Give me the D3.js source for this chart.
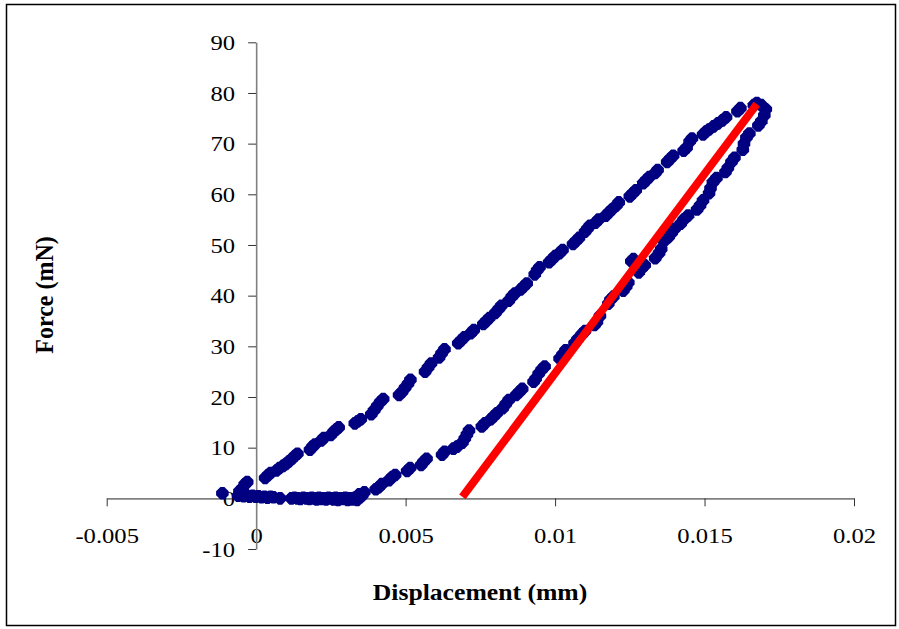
<!DOCTYPE html>
<html>
<head>
<meta charset="utf-8">
<script src="https://cdn.jsdelivr.net/npm/d3@7/dist/d3.min.js"></script>
<style>
  html, body { margin: 0; padding: 0; background: #fff; }
  svg { display: block; }
  text { font-family: "Liberation Serif", "Times New Roman", serif; fill: #000; }
</style>
</head>
<body>
<svg id="chart" width="899" height="629"></svg>
<script>
// Indentation test: loading branch (displacement in mm, force in mN)
const loadDisp = [
  0.00030, 0.00040, 0.00048,
  0.00068, 0.00078, 0.00090, 0.00100, 0.00110, 0.00120, 0.00130, 0.00138,
  0.00180, 0.00188, 0.00196, 0.00218, 0.00226,
  0.00250, 0.00260, 0.00268, 0.00276,
  0.00330, 0.00340, 0.00350,
  0.00385, 0.00395, 0.00405, 0.00415, 0.00425,
  0.00478, 0.00488, 0.00498, 0.00508, 0.00516,
  0.00565, 0.00575, 0.00585, 0.00612, 0.00620, 0.00630,
  0.00676, 0.00686, 0.00696, 0.00718, 0.00728,
  0.00760, 0.00770, 0.00780, 0.00800, 0.00812, 0.00820,
  0.00845, 0.00855, 0.00865, 0.00885, 0.00895, 0.00905,
  0.00932, 0.00940, 0.00948, 0.00980, 0.00990, 0.01000,
  0.01015, 0.01025, 0.01060, 0.01070, 0.01080,
  0.01100, 0.01108, 0.01116, 0.01135, 0.01145,
  0.01170, 0.01180, 0.01190, 0.01205, 0.01213,
  0.01250, 0.01260, 0.01270, 0.01295, 0.01305, 0.01315,
  0.01335, 0.01343, 0.01375, 0.01385, 0.01395,
  0.01430, 0.01440, 0.01450, 0.01458,
  0.01495, 0.01505, 0.01515, 0.01530, 0.01545, 0.01560, 0.01572,
  0.01610, 0.01620, 0.01665, 0.01675, 0.01690, 0.01705
];
const loadForce = [
  4.0, 4.6, 5.0,
  5.5, 6.0, 6.4, 6.8, 7.3, 7.8, 8.4, 8.8,
  9.6, 10.2, 10.6, 11.4, 11.9,
  12.5, 13.2, 13.6, 14.0,
  14.8, 15.2, 15.6,
  16.6, 17.4, 18.2, 19.0, 19.6,
  20.4, 21.0, 21.8, 22.6, 23.4,
  25.0, 25.8, 26.6, 27.8, 28.6, 29.4,
  30.6, 31.2, 31.8, 32.6, 33.2,
  34.4, 35.0, 35.6, 36.6, 37.4, 38.0,
  39.0, 39.8, 40.4, 41.2, 41.8, 42.4,
  44.2, 45.0, 45.6, 46.6, 47.2, 47.8,
  48.4, 49.0, 50.2, 50.8, 51.4,
  52.6, 53.2, 53.8, 54.4, 55.0,
  55.8, 56.4, 57.0, 57.8, 58.4,
  59.6, 60.2, 60.8, 62.2, 62.8, 63.4,
  64.2, 64.8, 66.4, 67.0, 67.6,
  68.6, 69.2, 70.4, 71.0,
  71.8, 72.4, 72.8, 73.4, 74.0, 74.6, 75.2,
  76.4, 77.0, 77.6, 78.0, 77.6, 76.8
];

// Unloading branch
const unloadDisp = [
  0.01700, 0.01690, 0.01680,
  0.01650, 0.01640, 0.01632, 0.01628,
  0.01600, 0.01590, 0.01578, 0.01570,
  0.01540, 0.01528, 0.01520, 0.01515,
  0.01495, 0.01485, 0.01475,
  0.01445, 0.01430, 0.01420,
  0.01400, 0.01390, 0.01380, 0.01365,
  0.01355, 0.01348, 0.01335,
  0.01300, 0.01290, 0.01280,
  0.01255, 0.01262,
  0.01245, 0.01238, 0.01228,
  0.01195, 0.01185, 0.01178,
  0.01150, 0.01140, 0.01132,
  0.01100, 0.01090, 0.01075, 0.01065,
  0.01035, 0.01025, 0.01015,
  0.00965, 0.00955, 0.00945, 0.00935, 0.00928,
  0.00890, 0.00880, 0.00870,
  0.00845, 0.00835, 0.00825,
  0.00805, 0.00795, 0.00785,
  0.00765, 0.00755,
  0.00712, 0.00705, 0.00698, 0.00690,
  0.00672, 0.00660,
  0.00630, 0.00622,
  0.00570, 0.00560, 0.00552,
  0.00515, 0.00505,
  0.00465, 0.00455, 0.00445,
  0.00420, 0.00410, 0.00400,
  0.00362, 0.00355, 0.00348
];
const unloadForce = [
  75.6, 74.4, 73.6,
  72.0, 71.2, 70.0, 68.8,
  67.2, 66.4, 65.2, 64.4,
  63.2, 62.4, 61.2, 60.2,
  58.8, 57.8, 57.0,
  55.8, 55.0, 54.2,
  53.2, 52.4, 51.6, 50.8,
  49.2, 48.4, 47.4,
  46.0, 45.4, 44.6,
  46.8, 47.2,
  42.6, 41.8, 41.0,
  39.8, 39.2, 38.4,
  36.0, 34.8, 34.2,
  33.0, 32.4, 31.4, 30.6,
  29.2, 28.4, 27.6,
  26.0, 25.4, 24.6, 23.6, 23.0,
  21.6, 21.0, 20.4,
  19.4, 18.6, 17.8,
  16.8, 16.2, 15.6,
  14.8, 14.2,
  13.4, 12.6, 11.8, 11.0,
  10.2, 9.8,
  9.2, 8.6,
  7.8, 7.2, 6.6,
  6.0, 5.4,
  4.6, 4.2, 3.6,
  2.8, 2.2, 1.8,
  1.2, 0.6, 0.2
];

// Retraction tail near zero force, plus the first contact points
const tailDisp = [
  0.00345, 0.00338, 0.00330, 0.00322, 0.00314, 0.00306, 0.00298, 0.00290,
  0.00282, 0.00274, 0.00266, 0.00258, 0.00250, 0.00242, 0.00234, 0.00226,
  0.00218, 0.00210, 0.00202, 0.00194, 0.00186, 0.00178, 0.00168, 0.00158,
  0.00148, 0.00138, 0.00128, 0.00118,
  0.00080,
  0.00058, 0.00048, 0.00038, 0.00028, 0.00018, 0.00008, -0.00002,
  -0.00012, -0.00022, -0.00032, -0.00042, -0.00052, -0.00060,
  -0.00113, -0.00056, -0.00046, -0.00038, -0.00030
];
const tailForce = [
  0.8, -0.3, 0.1, -0.2, 0.0, -0.3, 0.1, -0.1,
  0.0, -0.3, 0.1, -0.2, 0.0, 0.1, -0.2, 0.0,
  -0.1, 0.1, -0.2, 0.0, 0.1, -0.1, 0.0, 0.1,
  -0.1, 0.0, 0.1, 0.0,
  0.0,
  0.2, 0.3, 0.1, 0.3, 0.2, 0.4, 0.3,
  0.5, 0.3, 0.6, 0.4, 0.7, 0.5,
  1.0, 1.4, 2.0, 2.8, 3.2
];

// Fitted unloading tangent (stiffness line)
const fitDisp = [0.0069, 0.01675];
const fitForce = [0.3, 77.8];

// Axis ticks
const xTicks = [-0.005, 0, 0.005, 0.01, 0.015, 0.02];
const yTicks = [-10, 0, 10, 20, 30, 40, 50, 60, 70, 80, 90];

const svg = d3.select("#chart");

// chart frame
svg.append("rect")
  .attr("x", 6.5).attr("y", 4.5)
  .attr("width", 889).attr("height", 621)
  .attr("fill", "none").attr("stroke", "#000").attr("stroke-width", 1.5);

const x = d3.scaleLinear().domain([-0.005, 0.02]).range([106.7, 854]);
const y = d3.scaleLinear().domain([-10, 90]).range([549, 42.3]);

const sx = 1.12; // horizontal stretch of the label type

// x axis through force = 0
const gx = svg.append("g")
  .attr("transform", `translate(0,${y(0)})`)
  .call(d3.axisBottom(x).tickValues(xTicks).tickSize(8).tickSizeOuter(0)
    .tickPadding(21).tickFormat(d => String(d)));

// y axis through displacement = 0
const gy = svg.append("g")
  .attr("transform", `translate(${x(0)},0)`)
  .call(d3.axisLeft(y).tickValues(yTicks).tickSize(8).tickSizeOuter(0)
    .tickPadding(13).tickFormat(d => String(d)));

[gx, gy].forEach(g => {
  g.select(".domain").attr("stroke", "#808080").attr("stroke-width", 1.6);
  g.selectAll(".tick line").attr("stroke", "#333").attr("stroke-width", 1);
  g.selectAll(".tick text")
    .attr("font-family", "Liberation Serif, Times New Roman, serif")
    .attr("font-size", 22).attr("fill", "#000");
});
gx.selectAll(".tick text").attr("transform", `scale(${sx},1)`);
gy.selectAll(".tick text").each(function () {
  const t = d3.select(this);
  const px = +t.attr("x");
  t.attr("x", null).attr("transform", `translate(${px},0) scale(${sx},1)`);
});

// diamond marker with blunted tips
const marker = "M-2,-6.3L2,-6.3L6.3,-2L6.3,2L2,6.3L-2,6.3L-6.3,2L-6.3,-2Z";

const pts = [];
loadDisp.forEach((d, i) => pts.push([d, loadForce[i]]));
unloadDisp.forEach((d, i) => pts.push([d, unloadForce[i]]));
tailDisp.forEach((d, i) => pts.push([d, tailForce[i]]));

svg.append("g").selectAll("path")
  .data(pts)
  .join("path")
  .attr("d", marker)
  .attr("transform", d => `translate(${x(d[0])},${y(d[1])})`)
  .attr("fill", "#000080");

// stiffness line
svg.append("path")
  .datum(fitDisp.map((d, i) => [d, fitForce[i]]))
  .attr("d", d3.line().x(d => x(d[0])).y(d => y(d[1])))
  .attr("fill", "none")
  .attr("stroke", "#ff0000")
  .attr("stroke-width", 8)
  .attr("stroke-linecap", "butt");

// axis titles
svg.append("text")
  .attr("transform", `translate(480,600) scale(1.07,1)`)
  .attr("text-anchor", "middle")
  .attr("font-size", 24).attr("font-weight", "bold")
  .text("Displacement (mm)");

svg.append("text")
  .attr("transform", `translate(53,295) scale(1.07,1) rotate(-90)`)
  .attr("text-anchor", "middle")
  .attr("font-size", 24).attr("font-weight", "bold")
  .text("Force (mN)");
</script>
</body>
</html>
